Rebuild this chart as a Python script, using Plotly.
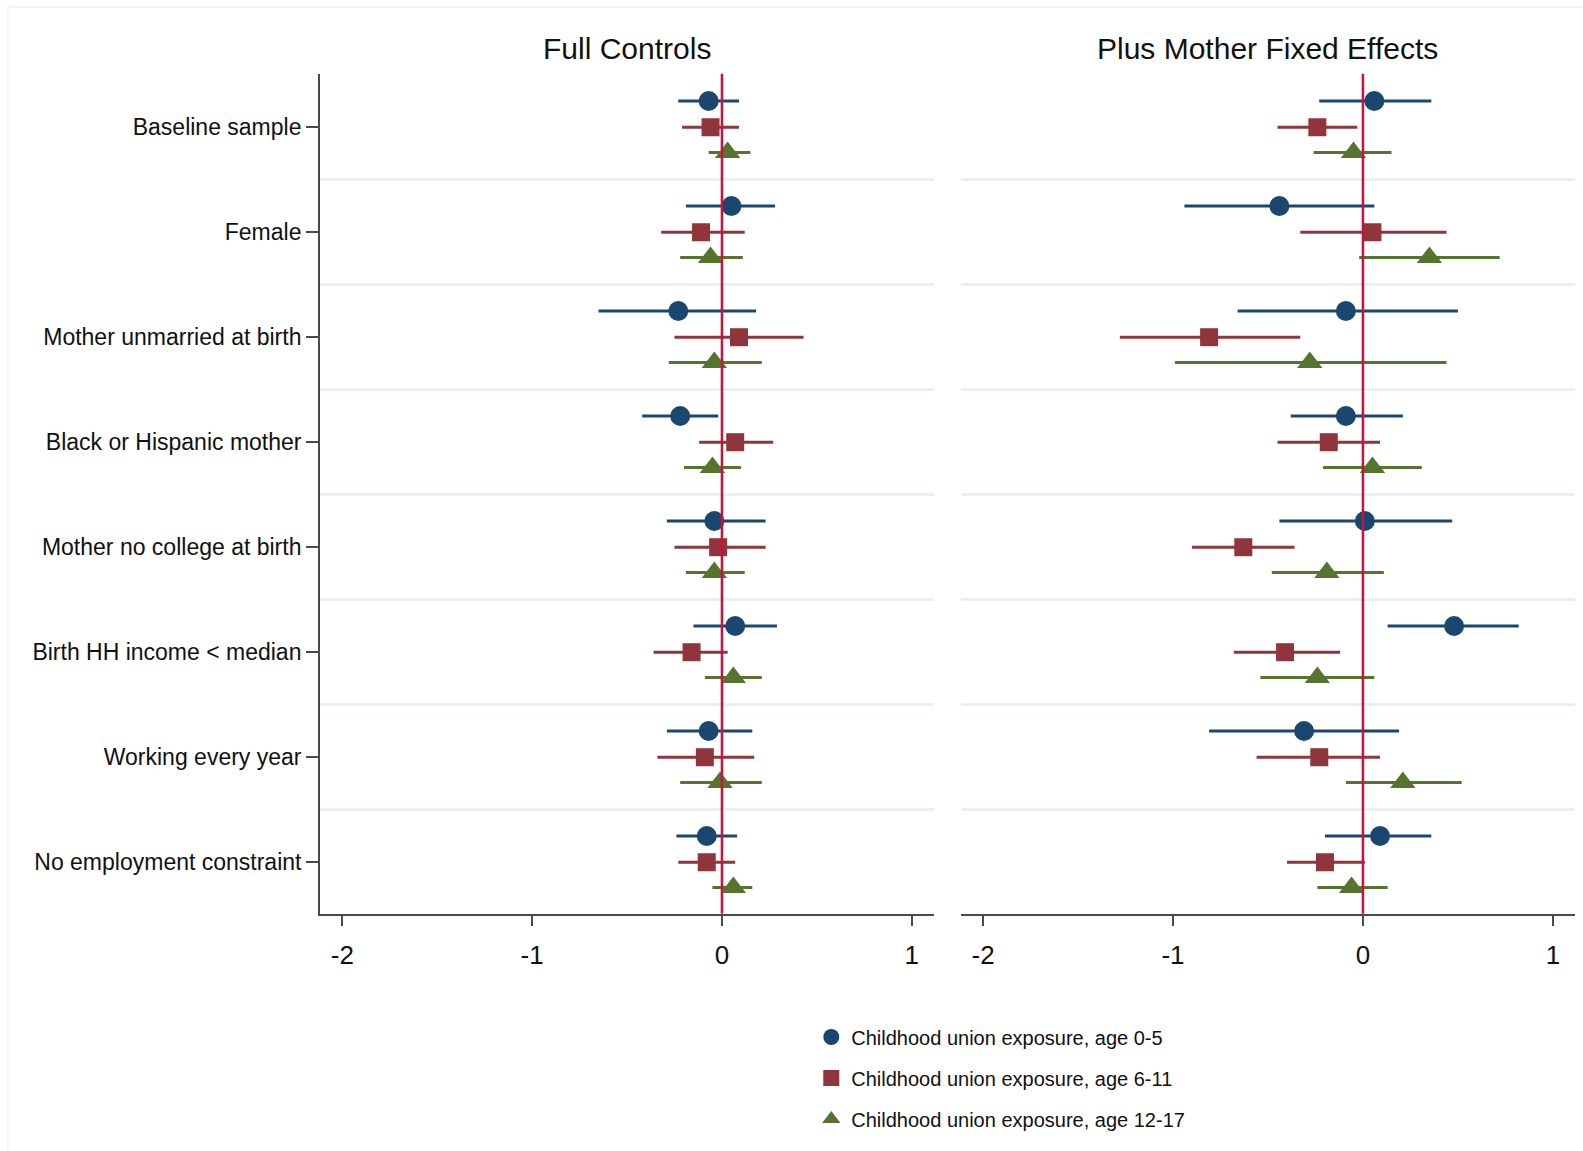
import plotly.graph_objects as go

categories = ["Baseline sample", "Female", "Mother unmarried at birth", "Black or Hispanic mother",
              "Mother no college at birth", "Birth HH income < median", "Working every year",
              "No employment constraint"]
series_names = ["Childhood union exposure, age 0-5", "Childhood union exposure, age 6-11",
                "Childhood union exposure, age 12-17"]

# Full Controls panel: point estimates and CI bounds
fc_est_05 = [-0.07, 0.05, -0.23, -0.22, -0.04, 0.07, -0.07, -0.08]
fc_lo_05 = [-0.23, -0.19, -0.65, -0.42, -0.29, -0.15, -0.29, -0.24]
fc_hi_05 = [0.09, 0.28, 0.18, -0.02, 0.23, 0.29, 0.16, 0.08]
fc_est_611 = [-0.06, -0.11, 0.09, 0.07, -0.02, -0.16, -0.09, -0.08]
fc_lo_611 = [-0.21, -0.32, -0.25, -0.12, -0.25, -0.36, -0.34, -0.23]
fc_hi_611 = [0.09, 0.12, 0.43, 0.27, 0.23, 0.03, 0.17, 0.07]
fc_est_1217 = [0.03, -0.06, -0.04, -0.05, -0.04, 0.06, -0.01, 0.06]
fc_lo_1217 = [-0.07, -0.22, -0.28, -0.20, -0.19, -0.09, -0.22, -0.05]
fc_hi_1217 = [0.15, 0.11, 0.21, 0.10, 0.12, 0.21, 0.21, 0.16]

# Plus Mother Fixed Effects panel
fe_est_05 = [0.06, -0.44, -0.09, -0.09, 0.01, 0.48, -0.31, 0.09]
fe_lo_05 = [-0.23, -0.94, -0.66, -0.38, -0.44, 0.13, -0.81, -0.20]
fe_hi_05 = [0.36, 0.06, 0.50, 0.21, 0.47, 0.82, 0.19, 0.36]
fe_est_611 = [-0.24, 0.05, -0.81, -0.18, -0.63, -0.41, -0.23, -0.20]
fe_lo_611 = [-0.45, -0.33, -1.28, -0.45, -0.90, -0.68, -0.56, -0.40]
fe_hi_611 = [-0.03, 0.44, -0.33, 0.09, -0.36, -0.12, 0.09, 0.01]
fe_est_1217 = [-0.05, 0.35, -0.28, 0.05, -0.19, -0.24, 0.21, -0.06]
fe_lo_1217 = [-0.26, -0.02, -0.99, -0.21, -0.48, -0.54, -0.09, -0.24]
fe_hi_1217 = [0.15, 0.72, 0.44, 0.31, 0.11, 0.06, 0.52, 0.13]

panel_titles = ["Full Controls", "Plus Mother Fixed Effects"]
x_ticks = [-2, -1, 0, 1]

colors = ["#1a476f", "#90353b", "#55752f"]
symbols = ["circle", "square", "triangle-up"]
msizes = [20, 18, 22]
offsets = [-0.25, 0.0, 0.24]

FONT = "Liberation Sans Narrow, Arial Narrow, Liberation Sans, Arial, sans-serif"

panels = [
    [(fc_est_05, fc_lo_05, fc_hi_05), (fc_est_611, fc_lo_611, fc_hi_611), (fc_est_1217, fc_lo_1217, fc_hi_1217)],
    [(fe_est_05, fe_lo_05, fe_hi_05), (fe_est_611, fe_lo_611, fe_hi_611), (fe_est_1217, fe_lo_1217, fe_hi_1217)],
]

fig = go.Figure()
for p, panel in enumerate(panels):
    xa = "x" if p == 0 else "x2"
    ya = "y" if p == 0 else "y2"
    for s, (est, lo, hi) in enumerate(panel):
        lx, ly = [], []
        for i in range(len(categories)):
            yy = i + offsets[s]
            lx += [lo[i], hi[i], None]
            ly += [yy, yy, None]
        fig.add_trace(go.Scatter(x=lx, y=ly, mode="lines", xaxis=xa, yaxis=ya,
                                 line=dict(color=colors[s], width=3), showlegend=False,
                                 hoverinfo="skip"))
    for s, (est, lo, hi) in enumerate(panel):
        fig.add_trace(go.Scatter(x=est, y=[i + offsets[s] for i in range(len(categories))],
                                 mode="markers", xaxis=xa, yaxis=ya, name=series_names[s],
                                 legendgroup=series_names[s], showlegend=(p == 0),
                                 marker=dict(symbol=symbols[s], size=msizes[s], color=colors[s],
                                             line=dict(width=0))))

xr = [-2.117, 1.117]
yr = [7.49, -0.51]
axis_col = "#4a4a4a"
xcommon = dict(range=xr, tickvals=x_ticks, ticktext=[str(v) for v in x_ticks], showgrid=False,
               zeroline=False, showline=True, linecolor=axis_col, linewidth=2, ticks="outside",
               ticklen=10, tickwidth=2, tickcolor=axis_col, ticklabelstandoff=7,
               tickfont=dict(family=FONT, size=26, color="#111"))
ycommon = dict(range=yr, zeroline=False, showgrid=False,
               minor=dict(tickvals=[0.5 + k for k in range(7)], showgrid=True,
                          gridcolor="#e9f0f2", gridwidth=3, ticks=""))

fig.update_layout(
    width=1583, height=1151, paper_bgcolor="white", plot_bgcolor="white",
    margin=dict(l=0, r=0, t=0, b=0),
    font=dict(family=FONT, color="#111"),
    xaxis=dict(domain=[0.2022, 0.590], anchor="y", **xcommon),
    xaxis2=dict(domain=[0.607, 0.995], anchor="y2", **xcommon),
    yaxis=dict(domain=[0.2062, 0.936], anchor="x", tickvals=list(range(len(categories))),
               ticktext=categories, showline=True, linecolor=axis_col, linewidth=2,
               ticks="outside", ticklen=12, tickwidth=2, tickcolor=axis_col,
               tickfont=dict(family=FONT, size=23, color="#111"), **ycommon),
    yaxis2=dict(domain=[0.2062, 0.936], anchor="x2", showticklabels=False, showline=False,
                ticks="", **ycommon),
    legend=dict(x=0.5125, y=0.116, xanchor="left", yanchor="top", tracegroupgap=12,
                font=dict(family=FONT, size=20, color="#111"), itemsizing="trace",
                bgcolor="rgba(0,0,0,0)"),
    showlegend=True,
)

for p, xref in enumerate(["x", "x2"]):
    yref = "y domain" if p == 0 else "y2 domain"
    fig.add_shape(type="line", xref=xref, yref=yref, x0=0, x1=0, y0=0, y1=1,
                  line=dict(color="#c8143c", width=2.5), layer="above")

for t, dom in zip(panel_titles, [(0.2022, 0.590), (0.607, 0.995)]):
    fig.add_annotation(text=t, xref="paper", yref="paper", x=(dom[0] + dom[1]) / 2,
                       y=0.958, xanchor="center", yanchor="middle", showarrow=False,
                       font=dict(family=FONT, size=30, color="#111"))

# faint outer frame
fig.add_shape(type="rect", xref="paper", yref="paper", x0=0.005, x1=1.2, y0=-0.2, y1=0.994,
              line=dict(color="#f0f0f0", width=1.5), layer="below")

fig.write_html("out.html")
